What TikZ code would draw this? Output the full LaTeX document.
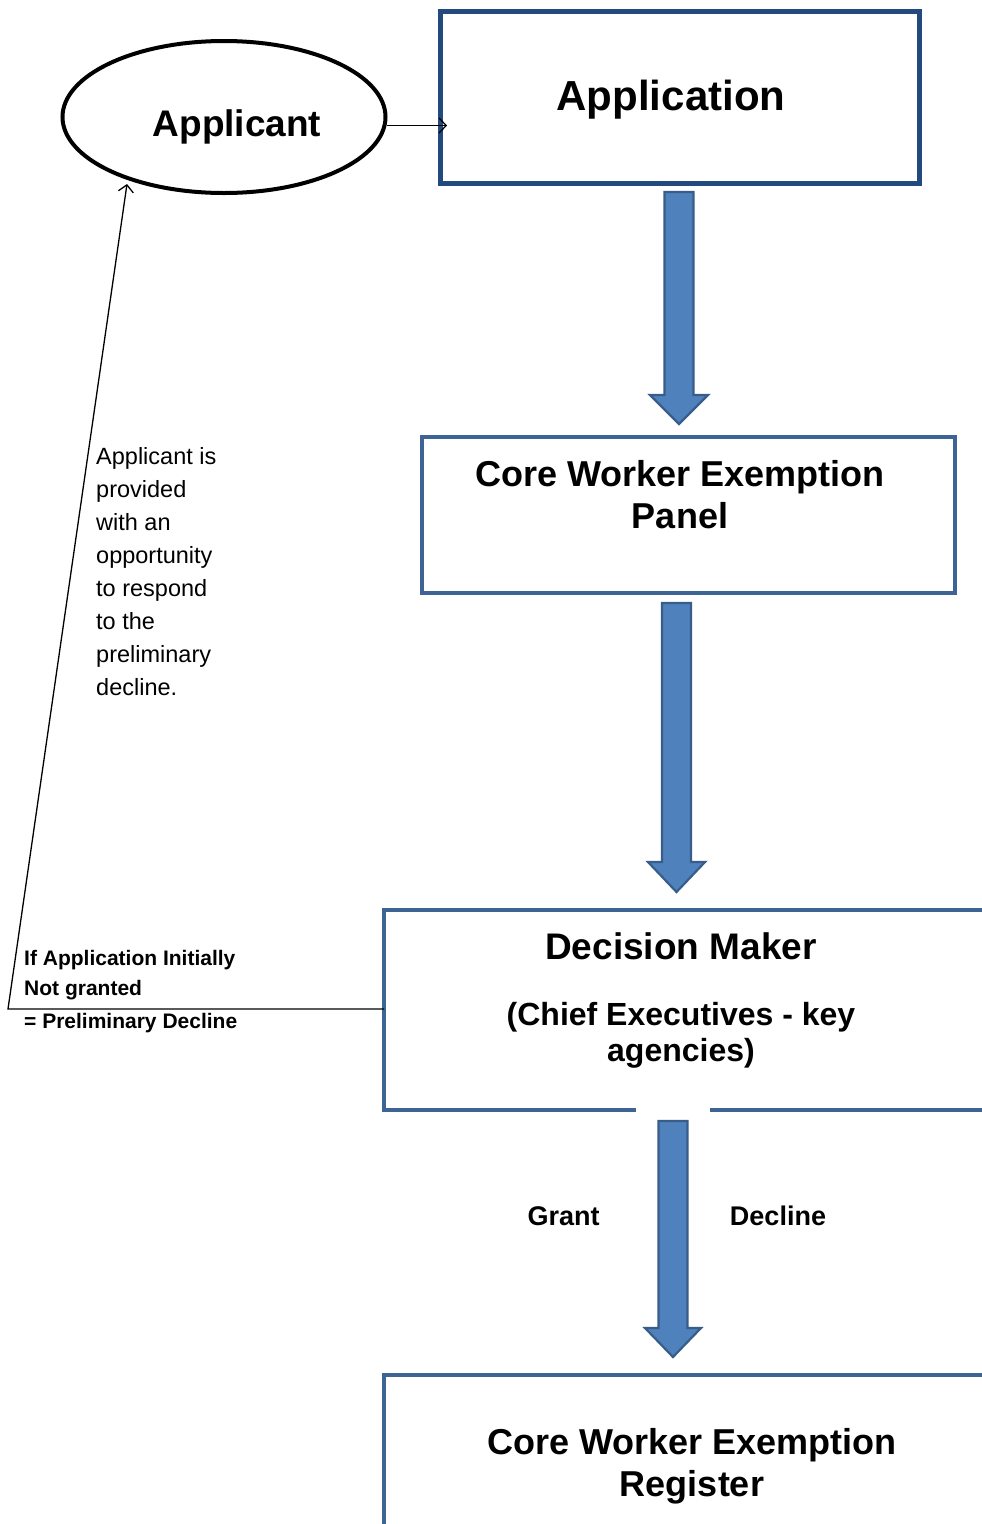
\documentclass[tikz,border=0pt]{standalone}
\usepackage{fontspec}
\setmainfont{Liberation Sans}
\usetikzlibrary{arrows.meta,shapes.geometric}
\definecolor{appblue}{RGB}{35,74,126}
\definecolor{boxblue}{RGB}{62,100,150}
\definecolor{arrfill}{RGB}{79,129,189}
\definecolor{arredge}{RGB}{56,93,138}
\newcommand{\fs}[2]{\fontsize{#1}{#2}\selectfont}
\newcommand{\blockarrowdown}[5]{% cx, top, headstart, tip, headhalfwidth
  \draw[barrow] (#1-14.5,#2) -- (#1+14.5,#2) -- (#1+14.5,#3) -- (#1+#5,#3) -- (#1,#4) -- (#1-#5,#3) -- (#1-14.5,#3) -- cycle;}
\begin{document}
\begin{tikzpicture}[x=1pt,y=-1pt,
  appbox/.style={draw=appblue,line width=5pt,minimum width=479pt,minimum height=172pt,inner sep=0pt,outer sep=0pt},
  flowbox/.style={draw=boxblue,line width=4pt,inner sep=0pt,outer sep=0pt},
  barrow/.style={fill=arrfill,draw=arredge,line width=2.2pt,line join=miter},
  conn/.style={draw=black,line width=1.3pt,-{Straight Barb[length=7pt,width=15pt,line width=1.3pt]}},
  bigtxt/.style={font=\bfseries,inner sep=0pt,anchor=base},
]
\useasboundingbox (0,0) rectangle (982,1524);
\clip (0,0) rectangle (982,1524);
\fill[white] (0,0) rectangle (982,1524);

% Applicant ellipse
\node[ellipse,draw=black,line width=4pt,minimum width=323pt,minimum height=152pt,inner sep=0pt] (ap) at (224,117) {};
\node[bigtxt,font=\bfseries\fs{37}{44}] (aptxt) at (237,136) {Applicant};

% Application box
\node[appbox] (app) at (679.5,97) {};
\node[bigtxt,font=\bfseries\fs{42}{50}] (apptxt) at (671,110) {Application};

% Panel box
\node[flowbox,minimum width=533pt,minimum height=156pt] (panel) at (688.5,515) {};
\node[bigtxt,font=\bfseries\fs{36}{42},align=center] (paneltxt) at (680,528) {Core Worker Exemption\\Panel};

% Decision Maker box (runs off right edge)
\node[flowbox,minimum width=640pt,minimum height=200pt] (dec) at (704,1010) {};
\fill[white] (636,1106) rectangle (710,1114);
\node[bigtxt,font=\bfseries\fs{37}{44}] (dectxt) at (681,959) {Decision Maker};
\node[bigtxt,font=\bfseries\fs{32}{36},align=center] (dectxt2) at (681,1061) {(Chief Executives - key\\agencies)};

% Register box (runs off right and bottom edges)
\node[flowbox,minimum width=640pt,minimum height=240pt] (reg) at (704,1495) {};
\node[bigtxt,font=\bfseries\fs{36}{42},align=center] (regtxt) at (692,1496) {Core Worker Exemption\\Register};

% Block arrows
\blockarrowdown{679}{192}{395}{424}{29}
\blockarrowdown{676.5}{603}{862}{892}{28.5}
\blockarrowdown{673}{1121}{1328}{1357}{28}

% Grant / Decline
\node[bigtxt,font=\bfseries\fs{27}{32}] (grant) at (563.5,1225) {Grant};
\node[bigtxt,font=\bfseries\fs{27}{32}] (decline) at (778,1225) {Decline};

% Applicant -> Application
\draw[conn] (ap.-3) -- ([xshift=7pt]ap.-3 -| app.west);

% Feedback line
\coordinate (corner) at (8,1009);
\coordinate (fbend) at (127,184);
\draw[conn] (dec.west |- corner) -- (corner) -- (fbend);

% Side texts
\node[anchor=base west,inner sep=0pt,align=left,font=\fs{23.5}{33}] (resp) at (96,695.5)
  {Applicant is\\provided\\with an\\opportunity\\to respond\\to the\\preliminary\\decline.};
\node[anchor=base west,inner sep=0pt,align=left,font=\bfseries\fs{21}{30}] (ifapp) at (24,1028.5)
  {If Application Initially\\Not granted\\[3pt]= Preliminary Decline};
\end{tikzpicture}
\end{document}
